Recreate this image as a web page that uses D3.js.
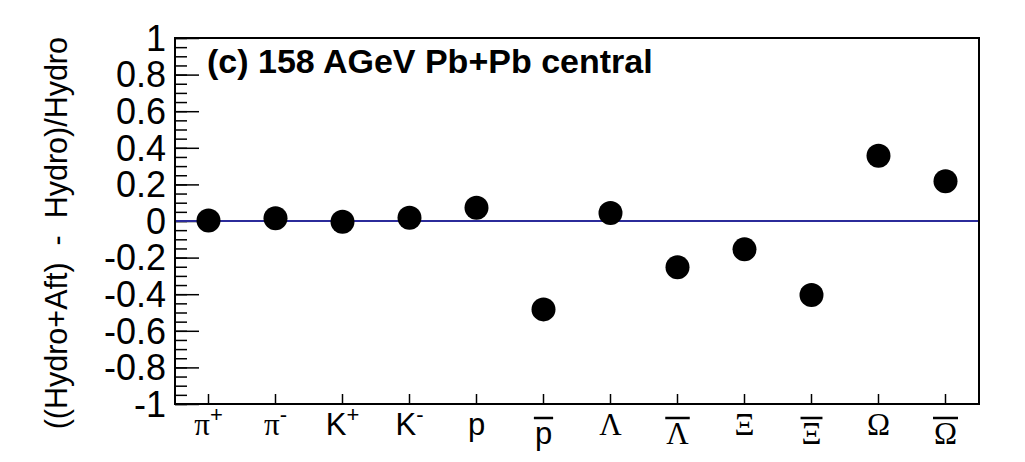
<!DOCTYPE html>
<html>
<head>
  <meta charset="utf-8">
  <script src="https://d3js.org/d3.v7.min.js"></script>
  <style>
    body { margin: 0; background: #fff; }
    text { font-family: "Liberation Sans", Arial, sans-serif; }
  </style>
</head>
<body>
  <div id="my_dataviz"></div>
  <script>
    // particle species along x
    var particles = ["π", "π", "K", "K", "p", "p", "Λ", "Λ", "Ξ", "Ξ", "Ω", "Ω"];
    var charges   = ["+", "-", "+", "-", "", "", "", "", "", "", "", ""];
    var antiBar   = [false, false, false, false, false, true, false, true, false, true, false, true];
    var greek     = [true, true, false, false, false, false, true, true, true, true, true, true];
    // ((Hydro+Aft) - Hydro)/Hydro
    var values = [0.003, 0.015, -0.004, 0.018, 0.072, -0.483, 0.044, -0.253, -0.155, -0.404, 0.357, 0.217];
    var yMajor = [-1, -0.8, -0.6, -0.4, -0.2, 0, 0.2, 0.4, 0.6, 0.8, 1];
    var yMinor = d3.range(-20, 21).map(function(i) { return i / 20; });

    var margin = { top: 38, right: 46, bottom: 58, left: 175 },
        width = 1025 - margin.left - margin.right,
        height = 462 - margin.top - margin.bottom;

    var svg = d3.select("#my_dataviz")
      .append("svg")
      .attr("width", 1025)
      .attr("height", 462)
      .append("g")
      .attr("transform", "translate(" + margin.left + "," + margin.top + ")");

    var x = d3.scaleBand()
      .domain(d3.range(particles.length))
      .range([0, width]);
    var y = d3.scaleLinear()
      .domain([-1, 1])
      .range([height, 0]);

    // minor y ticks
    svg.append("g")
      .call(d3.axisLeft(y).tickValues(yMinor).tickSizeInner(-12).tickSizeOuter(0).tickFormat(""))
      .call(function(g) { g.select(".domain").remove(); })
      .selectAll("line").attr("stroke-width", 1.5);

    // major y ticks + labels
    var yAxis = svg.append("g")
      .call(d3.axisLeft(y).tickValues(yMajor).tickSizeInner(-24).tickSizeOuter(0).tickPadding(9)
        .tickFormat(function(d) { return String(+d.toFixed(1)); }));
    yAxis.select(".domain").remove();
    yAxis.selectAll("line").attr("stroke-width", 1.5);
    yAxis.selectAll("text")
      .attr("font-family", "Liberation Sans")
      .attr("font-size", 36)
      .attr("fill", "#000")
      .attr("dy", "0.34em");

    // x ticks
    var xAxis = svg.append("g")
      .attr("transform", "translate(0," + height + ")")
      .call(d3.axisBottom(x).tickSizeInner(-10).tickSizeOuter(0).tickFormat(""));
    xAxis.select(".domain").remove();
    xAxis.selectAll("line").attr("stroke-width", 1.5);

    // x labels
    var lab = svg.append("g").selectAll("g")
      .data(particles)
      .enter()
      .append("g")
      .attr("transform", function(d, i) {
        var base = antiBar[i] ? height + 40 : height + 31;
        return "translate(" + (x(i) + x.bandwidth() / 2) + "," + base + ")";
      });
    var txt = lab.append("text")
      .attr("text-anchor", "middle")
      .attr("font-size", 31);
    txt.append("tspan")
      .attr("class", "base")
      .attr("font-family", function(d, i) { return greek[i] ? "Liberation Serif" : "Liberation Sans"; })
      .text(function(d) { return d; });
    txt.append("tspan")
      .attr("font-size", 22)
      .attr("dy", -13)
      .text(function(d, i) { return charges[i]; });
    lab.each(function(d, i) {
      if (!antiBar[i]) return;
      var w = d3.select(this).select(".base").node().getComputedTextLength();
      d3.select(this).append("line")
        .attr("x1", -w / 2 - 1).attr("x2", w / 2 + 1)
        .attr("y1", -26).attr("y2", -26)
        .attr("stroke", "#000")
        .attr("stroke-width", 2.5);
    });

    // zero line
    svg.append("line")
      .attr("x1", 0).attr("x2", width)
      .attr("y1", y(0)).attr("y2", y(0))
      .attr("stroke", "#2b2b9a")
      .attr("stroke-width", 2);

    // frame
    svg.append("rect")
      .attr("width", width)
      .attr("height", height)
      .attr("fill", "none")
      .attr("stroke", "#000")
      .attr("stroke-width", 2);

    // points
    svg.append("g")
      .selectAll("circle")
      .data(values)
      .enter()
      .append("circle")
      .attr("cx", function(d, i) { return x(i) + x.bandwidth() / 2; })
      .attr("cy", function(d) { return y(d); })
      .attr("r", 12)
      .style("fill", "#000");

    // title
    svg.append("text")
      .attr("x", 32)
      .attr("y", 35)
      .attr("font-size", 34)
      .attr("font-weight", "bold")
      .text("(c) 158 AGeV Pb+Pb central");

    // y axis title
    svg.append("text")
      .attr("transform", "translate(" + (-108) + ",-1) rotate(-90)")
      .attr("text-anchor", "end")
      .attr("font-size", 30.5)
      .style("white-space", "pre")
      .text("((Hydro+Aft)  -  Hydro)/Hydro");
  </script>
</body>
</html>
